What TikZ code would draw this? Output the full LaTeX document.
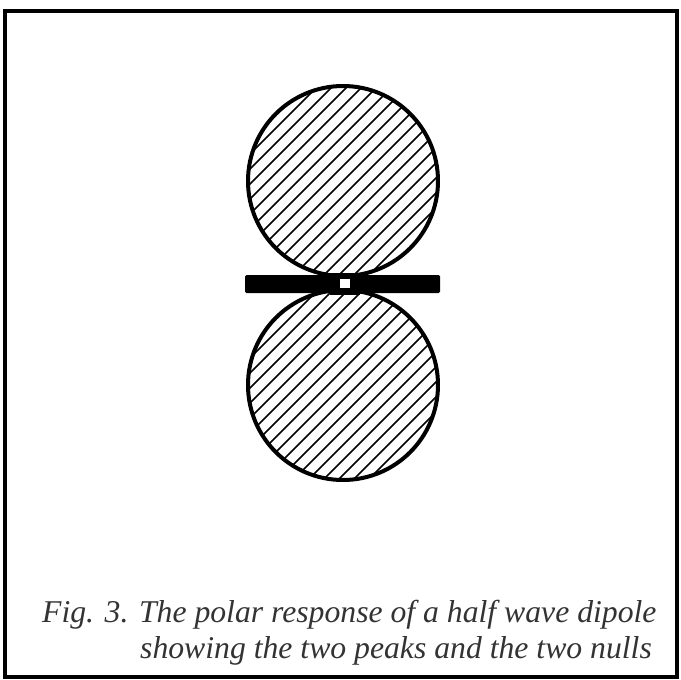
\documentclass[tikz,border=0pt]{standalone}
\usepackage{fontspec}
\setmainfont{Liberation Serif}
\begin{document}
\begin{tikzpicture}[x=1pt,y=-1pt,
  lobe/.style={line width=4pt,draw=black},
  hatch/.style={line width=1.5pt,draw=black},
  caption/.style={anchor=base west,inner sep=0pt,font=\fontsize{31.7}{36}\selectfont\itshape,text=black!80}]
\useasboundingbox (0,0) rectangle (681,680);
% frame
\draw[line width=3.5pt] (5,11) rectangle (677,677);
% hatching
\foreach \cy in {181,385}{
  \begin{scope}
    \clip (343,\cy) circle (95);
    \foreach \k in {-14,...,14}
      \draw[hatch] ({343+15*\k-120},{\cy+120}) -- ({343+15*\k+120},{\cy-120});
  \end{scope}
  \draw[lobe] (343,\cy) circle (95);
}
% dipole bar
\fill[rounded corners=1.5pt] (245,275) rectangle (440,293);
\fill (330,273) rectangle (360,295);
\fill[white] (340,279) rectangle (350,288);
% caption
\node[caption] (l1) at (42,622) {Fig. 3. The polar response of a half wave dipole};
\node[caption] (l2) at (140,658) {showing the two peaks and the two nulls};
\end{tikzpicture}
\end{document}
